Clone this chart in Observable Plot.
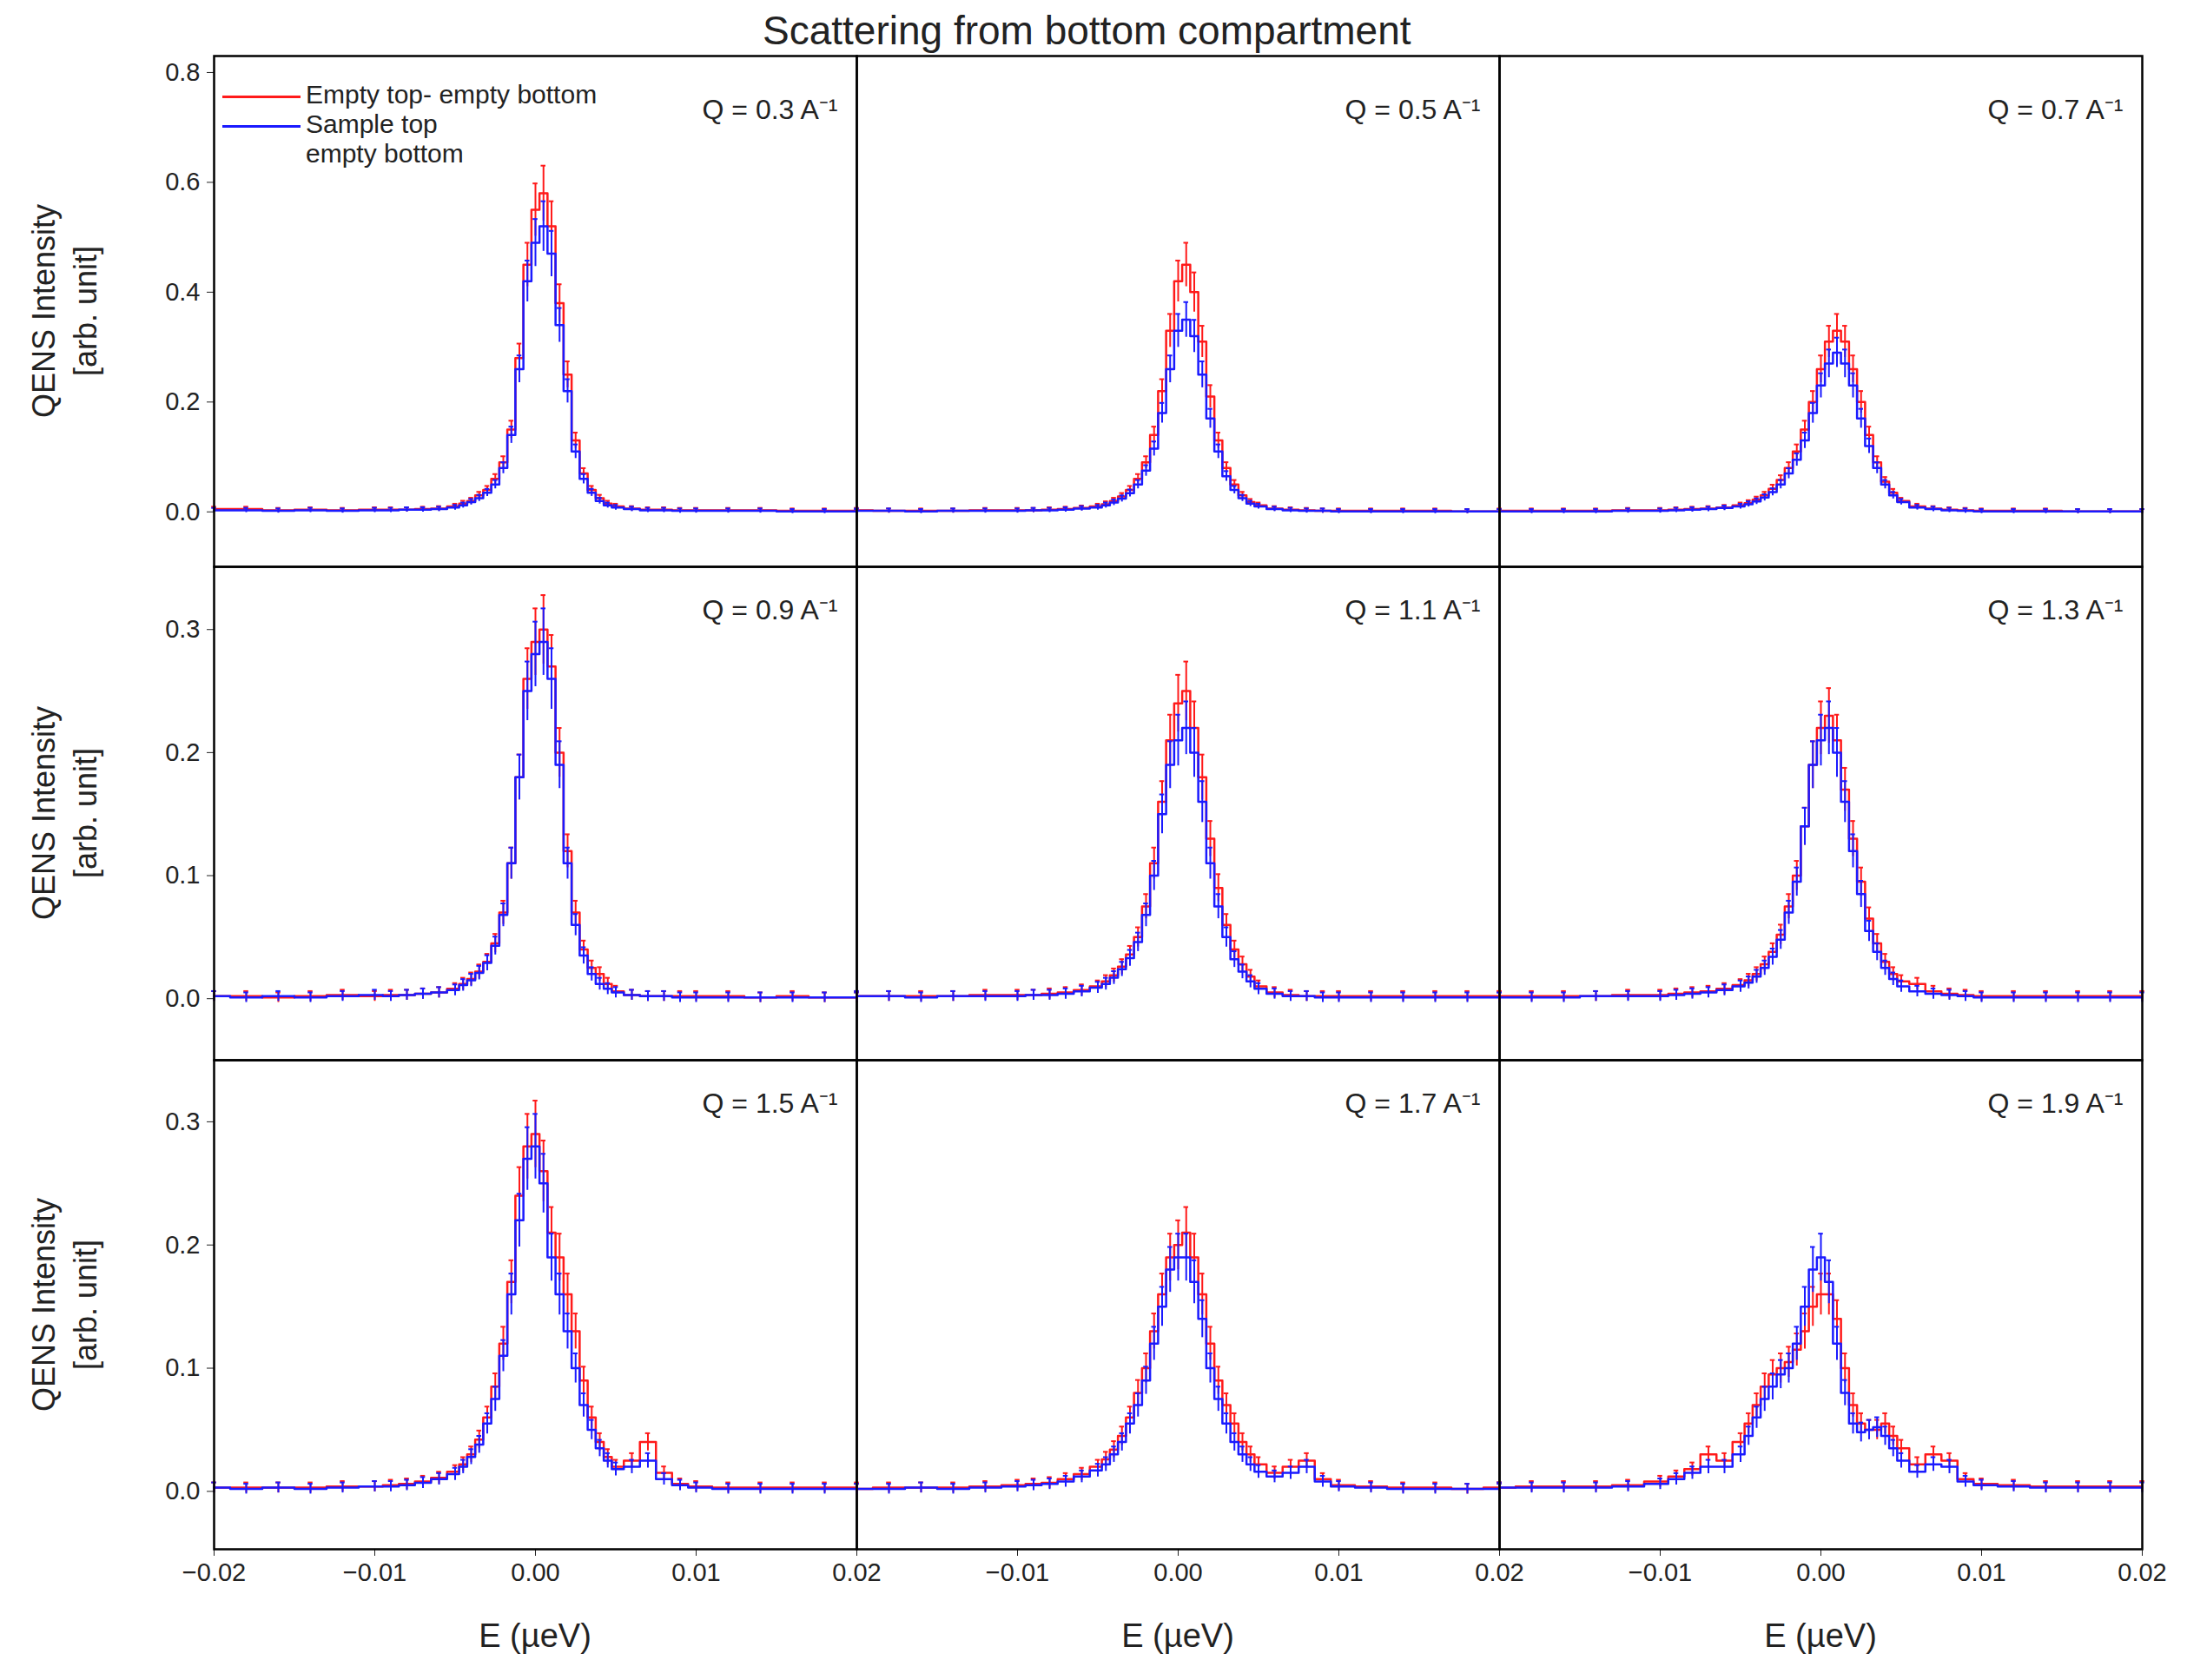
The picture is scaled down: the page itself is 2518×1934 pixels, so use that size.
<!DOCTYPE html>
<html><head><meta charset="utf-8">
<script src="https://cdn.jsdelivr.net/npm/d3@7"></script>
<script src="https://cdn.jsdelivr.net/npm/@observablehq/plot@0.6"></script>
<style>
body{margin:0;background:#fff;font-family:"Liberation Sans",Arial,sans-serif;}
#wrap{position:relative;width:2518px;height:1934px;}
.p{position:absolute;}
.t{position:absolute;color:#222;white-space:nowrap;}
</style></head><body><div id="wrap"></div>
<script>
const xs=[-0.020,-0.018,-0.016,-0.014,-0.012,-0.010,-0.009,-0.008,-0.007,-0.006,-0.005,-0.0045,-0.004,-0.0035,-0.003,-0.0025,-0.002,-0.0015,-0.001,-0.0005,0,0.0005,0.001,0.0015,0.002,0.0025,0.003,0.0035,0.004,0.0045,0.005,0.006,0.007,0.008,0.009,0.010,0.012,0.014,0.016,0.018,0.020];
const qLabels=["0.3","0.5","0.7","0.9","1.1","1.3","1.5","1.7","1.9"];
const red03=[.005,.005,.003,.004,.003,.004,.004,.004,.005,.006,.01,.015,.02,.03,.04,.06,.09,.15,.28,.45,.55,.58,.52,.38,.25,.13,.07,.04,.025,.015,.01,.006,.004,.004,.003,.003,.003,.003,.002,.002,.002];
const blue03=[.003,.003,.002,.003,.002,.003,.003,.004,.004,.005,.008,.012,.018,.025,.035,.05,.08,.14,.26,.42,.49,.52,.47,.34,.22,.11,.06,.035,.02,.012,.008,.005,.003,.003,.002,.002,.002,.002,.001,.001,.001];
const red05=[.003,.002,.002,.002,.003,.003,.003,.004,.005,.007,.01,.014,.02,.028,.04,.06,.09,.14,.22,.33,.42,.45,.40,.31,.21,.13,.08,.05,.03,.018,.012,.006,.004,.003,.002,.002,.002,.002,.002,.001,.001];
const blue05=[.002,.002,.001,.002,.002,.002,.003,.003,.004,.006,.008,.012,.017,.024,.034,.05,.075,.115,.18,.26,.33,.35,.32,.25,.17,.11,.065,.04,.025,.015,.01,.005,.003,.002,.002,.001,.001,.001,.001,.001,.001];
const red07=[.002,.002,.002,.002,.003,.003,.004,.005,.006,.008,.012,.016,.022,.03,.042,.058,.08,.11,.15,.2,.26,.31,.33,.31,.26,.2,.14,.09,.055,.035,.02,.01,.006,.004,.003,.002,.002,.002,.001,.001,.001];
const blue07=[.001,.001,.001,.001,.002,.002,.003,.004,.005,.007,.01,.014,.019,.026,.036,.05,.07,.095,.13,.18,.23,.27,.29,.27,.23,.17,.12,.08,.05,.03,.018,.008,.005,.003,.002,.001,.001,.001,.001,.001,.001];
const red09=[.002,.002,.001,.002,.003,.002,.003,.003,.004,.005,.008,.012,.016,.022,.03,.045,.07,.11,.18,.26,.29,.30,.27,.2,.12,.07,.04,.025,.02,.012,.006,.003,.002,.002,.002,.002,.002,.001,.002,.001,.001];
const blue09=[.002,.001,.002,.001,.002,.003,.002,.003,.004,.005,.007,.011,.015,.021,.029,.043,.068,.11,.18,.25,.28,.29,.26,.19,.11,.06,.035,.02,.012,.008,.005,.003,.002,.002,.001,.001,.001,.001,.001,.001,.001];
const red11=[.002,.002,.002,.002,.003,.003,.003,.004,.005,.007,.01,.014,.019,.026,.036,.05,.075,.11,.16,.21,.24,.25,.22,.18,.13,.09,.06,.04,.028,.018,.01,.005,.003,.002,.002,.002,.002,.002,.002,.002,.002];
const blue11=[.002,.002,.001,.002,.002,.002,.003,.003,.004,.006,.009,.012,.017,.024,.033,.046,.068,.1,.15,.19,.21,.22,.2,.16,.11,.075,.05,.032,.022,.014,.008,.004,.002,.002,.001,.001,.001,.001,.001,.001,.001];
const red13=[.002,.002,.002,.002,.003,.003,.004,.005,.006,.008,.011,.015,.02,.028,.038,.052,.075,.1,.14,.19,.22,.23,.21,.17,.13,.095,.065,.045,.03,.02,.014,.012,.006,.004,.003,.002,.002,.002,.002,.002,.002];
const blue13=[.001,.001,.001,.002,.002,.002,.003,.004,.005,.007,.01,.013,.018,.025,.034,.048,.07,.095,.14,.19,.21,.22,.2,.16,.12,.085,.055,.038,.025,.016,.01,.006,.004,.003,.002,.001,.001,.001,.001,.001,.001];
const red15=[.003,.003,.003,.003,.004,.004,.005,.006,.008,.011,.016,.022,.03,.042,.06,.085,.12,.17,.24,.28,.29,.26,.21,.19,.16,.13,.09,.06,.04,.028,.02,.025,.04,.015,.006,.004,.003,.003,.003,.003,.003];
const blue15=[.003,.002,.003,.002,.003,.004,.004,.005,.007,.01,.014,.02,.028,.038,.055,.075,.11,.16,.22,.27,.28,.25,.19,.16,.13,.1,.07,.05,.035,.025,.018,.02,.025,.01,.005,.003,.002,.002,.002,.002,.002];
const red17=[.002,.003,.003,.003,.004,.005,.006,.007,.01,.014,.02,.026,.034,.045,.06,.08,.1,.13,.16,.19,.2,.21,.19,.16,.12,.09,.07,.055,.04,.03,.022,.015,.02,.025,.01,.005,.004,.003,.003,.002,.003];
const blue17=[.002,.002,.003,.002,.003,.004,.005,.006,.008,.012,.017,.022,.03,.04,.055,.07,.09,.12,.15,.18,.19,.19,.17,.14,.1,.075,.055,.04,.03,.022,.016,.012,.015,.02,.008,.004,.003,.002,.002,.002,.002];
const red19=[.003,.004,.004,.004,.005,.008,.012,.018,.03,.025,.04,.055,.07,.085,.095,.1,.105,.115,.13,.15,.16,.16,.14,.1,.07,.055,.05,.05,.055,.045,.035,.022,.03,.025,.01,.006,.005,.004,.004,.004,.004];
const blue19=[.003,.003,.003,.003,.004,.006,.01,.015,.02,.02,.03,.045,.06,.075,.085,.095,.1,.12,.15,.18,.19,.17,.12,.08,.055,.048,.05,.052,.045,.035,.025,.016,.022,.02,.008,.005,.004,.003,.003,.003,.003];
const reds=[red03,red05,red07,red09,red11,red13,red15,red17,red19];
const blues=[blue03,blue05,blue07,blue09,blue11,blue13,blue15,blue17,blue19];
const rowDomains=[[-0.1,0.83],[-0.05,0.351],[-0.047,0.35]];
const rowTicks=[[0,0.2,0.4,0.6,0.8],[0,0.1,0.2,0.3],[0,0.1,0.2,0.3]];
const xTicksFirst=[-0.02,-0.01,0,0.01,0.02], xTicksOther=[-0.01,0,0.01,0.02];
const RED="#ff1a1a", BLUE="#1a1aff";

const wrap=document.getElementById("wrap");
const L=246, PW=740, rowTop=[64,652,1220], rowH=[588,568,563];
const fmtY=d=>d3.format(".1f")(d), fmtX=d=>d3.format(".2f")(d).replace("-","−");
for(let i=0;i<9;i++){
  const r=Math.floor(i/3), c=i%3;
  const ml=c===0?L:0, mb=r===2?150:0;
  const series=[["r",reds[i]],["b",blues[i]]].flatMap(([s,a])=>a.map((y,k)=>({s,x:xs[k],y,e:0.08*y+0.004})));
  const marks=[];
  for(const [s,col] of [["r",RED],["b",BLUE]]){
    const d=series.filter(o=>o.s===s);
    marks.push(Plot.ruleX(d,{x:"x",y1:o=>o.y-o.e,y2:o=>o.y+o.e,stroke:col,strokeWidth:2}));
    marks.push(Plot.ruleY(d,{y:o=>o.y+o.e,x1:o=>o.x-0.00015,x2:o=>o.x+0.00015,stroke:col,strokeWidth:2}));
    marks.push(Plot.line(d,{x:"x",y:"y",curve:"step",stroke:col,strokeWidth:2.5}));
  }
  marks.push(Plot.text([`Q = ${qLabels[i]} A⁻¹`],{frameAnchor:"top-right",dx:-22,dy:r===0?50:38,fontSize:32,fill:"#222",textAnchor:"end"}));
  if(c===0) marks.push(Plot.axisY({ticks:rowTicks[r],tickFormat:fmtY,tickSize:8,fontSize:29,tickPadding:8,label:null}));
  if(r===2) marks.push(Plot.axisX({ticks:c===0?xTicksFirst:xTicksOther,tickFormat:fmtX,tickSize:8,fontSize:29,tickPadding:8,label:null}));
  marks.push(Plot.frame({stroke:"#000",strokeWidth:2.5}));
  const svg=Plot.plot({width:PW+ml,height:rowH[r]+mb,marginLeft:ml,marginRight:0,marginTop:0,marginBottom:mb,
    x:{domain:[-0.02,0.02],axis:null},y:{domain:rowDomains[r],axis:null},style:{fontFamily:"Liberation Sans, Arial, sans-serif",color:"#222",background:"transparent",overflow:"visible"},marks});
  svg.classList.add("p");
  svg.style.left=(L+c*PW-ml)+"px"; svg.style.top=rowTop[r]+"px";
  wrap.appendChild(svg);
}
function addText(html,x,y,fs,extra=""){const d=document.createElement("div");d.className="t";d.innerHTML=html;d.style.cssText+=`left:${x}px;top:${y}px;font-size:${fs}px;`+extra;wrap.appendChild(d);}
addText("Scattering from bottom compartment",878,8,46);
for(let r=0;r<3;r++){
  const cy=rowTop[r]+rowH[r]/2;
  addText("QENS Intensity<br>[arb. unit]",75,cy,36,"transform:translate(-50%,-50%) rotate(-90deg);text-align:center;line-height:48px;");
}
for(let c=0;c<3;c++) addText("E (µeV)",L+c*PW+PW/2,1862,38,"transform:translateX(-50%);");
const lg=document.createElement("div");lg.className="t";lg.style.cssText="left:256px;top:92px;font-size:30px;line-height:34px;";
lg.innerHTML=`<div><span style="display:inline-block;width:90px;border-top:3px solid ${RED};vertical-align:middle;margin-right:6px"></span>Empty top- empty bottom</div>
<div><span style="display:inline-block;width:90px;border-top:3px solid ${BLUE};vertical-align:middle;margin-right:6px"></span>Sample top</div>
<div style="padding-left:96px">empty bottom</div>`;
wrap.appendChild(lg);
</script></body></html>
